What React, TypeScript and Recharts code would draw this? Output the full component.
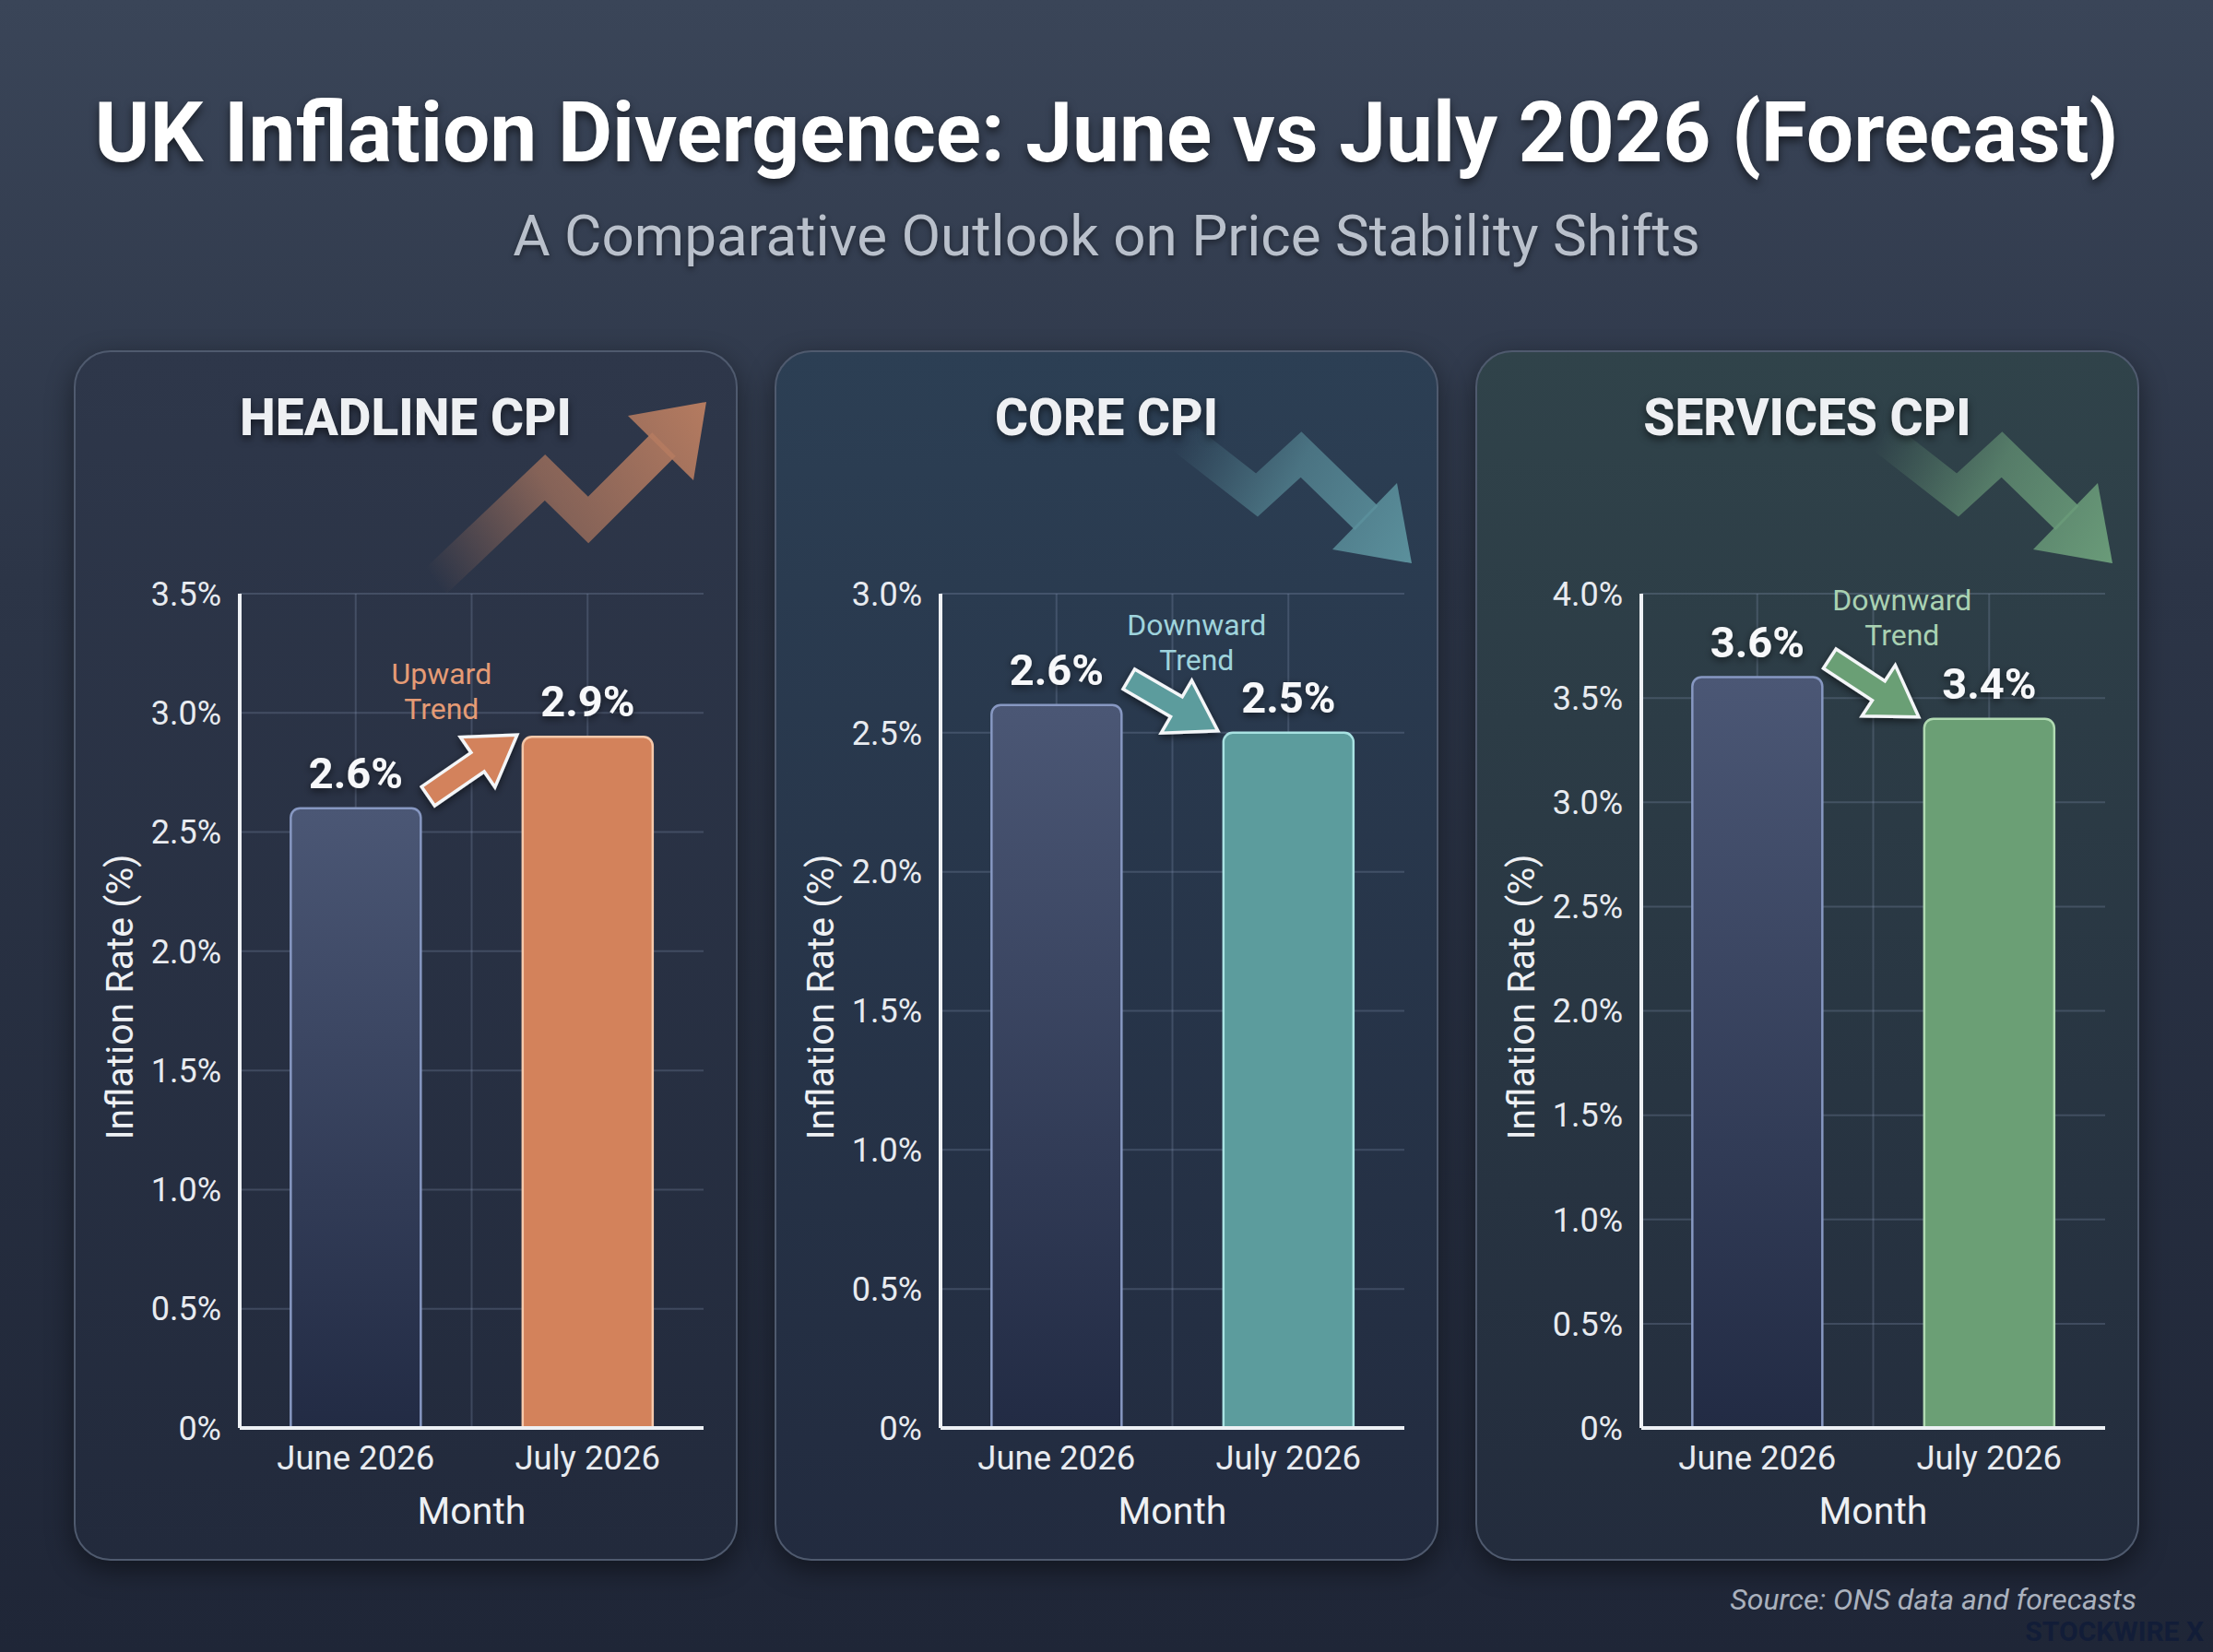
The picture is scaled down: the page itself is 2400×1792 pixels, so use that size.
import React from "react";
import { Bar, BarChart, CartesianGrid, Cell, LabelList, XAxis, YAxis } from "recharts";

const months = ["June 2026", "July 2026"];
const headlineValues = [2.6, 2.9];
const coreValues = [2.6, 2.5];
const servicesValues = [3.6, 3.4];
const headlineTicks = [0, 0.5, 1, 1.5, 2, 2.5, 3, 3.5];
const coreTicks = [0, 0.5, 1, 1.5, 2, 2.5, 3];
const servicesTicks = [0, 0.5, 1, 1.5, 2, 2.5, 3, 3.5, 4];
const panelTitles = ["HEADLINE CPI", "CORE CPI", "SERVICES CPI"];
const trendNotes = [
    ["Upward", "Trend"],
    ["Downward", "Trend"],
    ["Downward", "Trend"],
];

const FONT = "Roboto, 'Noto Sans', sans-serif";

// decorative zigzag arrows behind each panel title (panel coordinates)
const decoUp = {
    line: [[392, 251], [511, 138], [558, 184], [640, 102]],
    head: [[601, 71], [686, 56], [672, 141]],
};
const decoDown = {
    line: [[441, 93], [523, 157], [571, 113], [642, 182]],
    head: [[605, 216], [691, 231], [675, 144]],
};

const themes = [
    {
        key: "headline",
        left: 80,
        panelTop: "#2e374a",
        panelBottom: "#222a3c",
        accent: "#d3825b",
        accentStroke: "#f6c9ab",
        note: "#e59b75",
        deco: "#b57b60",
        shape: decoUp,
        lift: 13,
        noteDx: -82,
        noteDy: -66,
    },
    {
        key: "core",
        left: 840,
        panelTop: "#2c3f54",
        panelBottom: "#222b3f",
        accent: "#5c9c9d",
        accentStroke: "#a8e2e2",
        note: "#9fd3dc",
        deco: "#5b909c",
        shape: decoDown,
        lift: 28,
        noteDx: -23,
        noteDy: -115,
    },
    {
        key: "services",
        left: 1600,
        panelTop: "#30434a",
        panelBottom: "#232c3d",
        accent: "#6b9f75",
        accentStroke: "#b0dab2",
        note: "#a9d1b2",
        deco: "#6a9b79",
        shape: decoDown,
        lift: 20,
        noteDx: -18,
        noteDy: -127,
    },
];

const fmtTick = (v: number) => (v === 0 ? "0%" : `${v.toFixed(1)}%`);

function blockArrow(x1: number, y1: number, x2: number, y2: number) {
    const shaft = 25;
    const headW = 66;
    const headL = 52;
    const dx = x2 - x1;
    const dy = y2 - y1;
    const len = Math.hypot(dx, dy);
    const ux = dx / len;
    const uy = dy / len;
    const nx = -uy;
    const ny = ux;
    const bx = x2 - ux * headL;
    const by = y2 - uy * headL;
    const pts = [
        [x1 + (nx * shaft) / 2, y1 + (ny * shaft) / 2],
        [bx + (nx * shaft) / 2, by + (ny * shaft) / 2],
        [bx + (nx * headW) / 2, by + (ny * headW) / 2],
        [x2, y2],
        [bx - (nx * headW) / 2, by - (ny * headW) / 2],
        [bx - (nx * shaft) / 2, by - (ny * shaft) / 2],
        [x1 - (nx * shaft) / 2, y1 - (ny * shaft) / 2],
    ];
    return pts.map((p) => p.join(",")).join(" ");
}

type PanelProps = {
    title: string;
    values: number[];
    ticks: number[];
    note: string[];
    theme: (typeof themes)[number];
};

function Panel({ title, values, ticks, note, theme }: PanelProps) {
    const rows = months.map((month, i) => ({ month, value: values[i] }));
    const bars: { x: number; y: number; w: number }[] = [];
    const id = theme.key;
    const { line, head } = theme.shape;
    const start = line[0];
    const end = head[1];

    const renderLabel = (props: any) => {
        const vb = props.viewBox || props;
        const x = Number(props.x ?? vb.x);
        const y = Number(props.y ?? vb.y);
        const w = Number(props.width ?? vb.width);
        const index = props.index;
        bars[index] = { x, y, w };
        const label = (
            <text
                x={x + w / 2}
                y={y - 22}
                textAnchor="middle"
                fill="#f7f8fa"
                fontSize={47}
                fontWeight={700}
                fontFamily={FONT}
                filter={`url(#shadow-${id})`}
            >
                {`${Number(props.value).toFixed(1)}%`}
            </text>
        );
        if (index !== 1 || !bars[0]) return label;
        const prev = bars[0];
        const tx = x - 6;
        const ty = y - 2;
        return (
            <g>
                {label}
                <polygon
                    points={blockArrow(prev.x + prev.w + 8, prev.y - theme.lift, tx, ty)}
                    fill={theme.accent}
                    stroke="#f4f6f8"
                    strokeWidth={3.5}
                    strokeLinejoin="miter"
                    filter={`url(#shadow-${id})`}
                />
                <text
                    x={tx + theme.noteDx}
                    y={ty + theme.noteDy}
                    textAnchor="middle"
                    fill={theme.note}
                    fontSize={32}
                    fontFamily={FONT}
                >
                    <tspan x={tx + theme.noteDx} dy="0.35em">
                        {note[0]}
                    </tspan>
                    <tspan x={tx + theme.noteDx} dy="1.18em">
                        {note[1]}
                    </tspan>
                </text>
            </g>
        );
    };

    return (
        <div
            style={{
                position: "absolute",
                left: theme.left,
                top: 380,
                width: 720,
                height: 1313,
                boxSizing: "border-box",
                borderRadius: 40,
                border: "2px solid #4f5a6e",
                background: `linear-gradient(180deg, ${theme.panelTop} 0%, ${theme.panelBottom} 100%)`,
                boxShadow: "0 10px 30px rgba(0,0,0,0.45)",
                overflow: "hidden",
            }}
        >
            <svg width={720} height={1313} style={{ position: "absolute", left: -2, top: -2 }}>
                <defs>
                    <linearGradient
                        id={`deco-${id}`}
                        gradientUnits="userSpaceOnUse"
                        x1={start[0]}
                        y1={start[1]}
                        x2={end[0]}
                        y2={end[1]}
                    >
                        <stop offset="0%" stopColor={theme.deco} stopOpacity={0} />
                        <stop offset="45%" stopColor={theme.deco} stopOpacity={0.65} />
                        <stop offset="100%" stopColor={theme.deco} stopOpacity={1} />
                    </linearGradient>
                </defs>
                <polyline
                    points={line.map((p) => p.join(",")).join(" ")}
                    fill="none"
                    stroke={`url(#deco-${id})`}
                    strokeWidth={36}
                    strokeLinejoin="miter"
                />
                <polygon points={head.map((p) => p.join(",")).join(" ")} fill={`url(#deco-${id})`} />
            </svg>
            <div
                style={{
                    position: "absolute",
                    left: 0,
                    right: 0,
                    top: 38,
                    textAlign: "center",
                    color: "#eef0f3",
                    fontFamily: FONT,
                    fontWeight: 800,
                    fontSize: 55,
                    lineHeight: "66px",
                    textShadow: "0 4px 8px rgba(0,0,0,0.55)",
                }}
            >
                {title}
            </div>
            <div style={{ position: "absolute", left: -2, top: -2 }}>
                <BarChart
                    width={720}
                    height={1313}
                    data={rows}
                    margin={{ top: 264, right: 37, left: 0, bottom: 34 }}
                    barCategoryGap="22%"
                >
                    <defs>
                        <linearGradient id={`june-${id}`} x1="0" y1="0" x2="0" y2="1">
                            <stop offset="0%" stopColor="#4b5775" />
                            <stop offset="100%" stopColor="#222b44" />
                        </linearGradient>
                        <filter id={`shadow-${id}`} x="-30%" y="-30%" width="160%" height="160%">
                            <feDropShadow dx="0" dy="3" stdDeviation="4" floodColor="#000" floodOpacity="0.55" />
                        </filter>
                    </defs>
                    <CartesianGrid
                        stroke="rgba(140,156,186,0.26)"
                        strokeWidth={2}
                        verticalCoordinatesGenerator={({ offset }: any) => [
                            offset.left + offset.width * 0.25,
                            offset.left + offset.width * 0.5,
                            offset.left + offset.width * 0.75,
                        ]}
                    />
                    <XAxis
                        dataKey="month"
                        height={110}
                        axisLine={{ stroke: "#eef1f5", strokeWidth: 4 }}
                        tickLine={false}
                        tickSize={0}
                        tickMargin={19}
                        tick={{ fill: "#e8ebf0", fontSize: 36.5, fontFamily: FONT }}
                        label={{
                            value: "Month",
                            position: "insideBottom",
                            offset: 6,
                            fill: "#eef0f3",
                            fontSize: 41,
                            fontFamily: FONT,
                        }}
                    />
                    <YAxis
                        width={180}
                        domain={[0, ticks[ticks.length - 1]]}
                        ticks={ticks}
                        interval={0}
                        tickFormatter={fmtTick}
                        axisLine={{ stroke: "#eef1f5", strokeWidth: 4 }}
                        tickLine={false}
                        tickSize={0}
                        tickMargin={20}
                        tick={{ fill: "#e8ebf0", fontSize: 36, fontFamily: FONT }}
                        label={{
                            content: (p: any) => {
                                const vb = p.viewBox;
                                const cx = vb.x + 50;
                                const cy = vb.y + vb.height / 2 - 15;
                                return (
                                    <text
                                        x={cx}
                                        y={cy}
                                        transform={`rotate(-90 ${cx} ${cy})`}
                                        textAnchor="middle"
                                        dominantBaseline="central"
                                        fill="#eef0f3"
                                        fontSize={41}
                                        fontFamily={FONT}
                                    >
                                        Inflation Rate (%)
                                    </text>
                                );
                            },
                        }}
                    />
                    <Bar dataKey="value" isAnimationActive={false} radius={[10, 10, 0, 0]} strokeWidth={2.5}>
                        {rows.map((r, i) => (
                            <Cell
                                key={r.month}
                                fill={i === 0 ? `url(#june-${id})` : theme.accent}
                                stroke={i === 0 ? "#8798c2" : theme.accentStroke}
                            />
                        ))}
                        <LabelList dataKey="value" content={renderLabel} />
                    </Bar>
                </BarChart>
            </div>
        </div>
    );
}

export default function App() {
    const series = [headlineValues, coreValues, servicesValues];
    const tickSets = [headlineTicks, coreTicks, servicesTicks];
    return (
        <div
            style={{
                position: "fixed",
                left: 0,
                top: 0,
                width: 2400,
                height: 1792,
                overflow: "hidden",
                fontFamily: FONT,
                background: "linear-gradient(180deg, #3a4558 0%, #2c3547 35%, #1f2637 100%)",
            }}
        >
            <div
                style={{
                    position: "absolute",
                    left: 0,
                    right: 0,
                    top: 88,
                    textAlign: "center",
                    color: "#ffffff",
                    fontWeight: 700,
                    fontSize: 91,
                    lineHeight: "112px",
                    textShadow: "0 5px 10px rgba(0,0,0,0.55)",
                }}
            >
                UK Inflation Divergence: June vs July 2026 (Forecast)
            </div>
            <div
                style={{
                    position: "absolute",
                    left: 0,
                    right: 0,
                    top: 217,
                    textAlign: "center",
                    color: "#b9c0cb",
                    fontSize: 62,
                    lineHeight: "78px",
                    textShadow: "0 3px 6px rgba(0,0,0,0.45)",
                }}
            >
                A Comparative Outlook on Price Stability Shifts
            </div>
            {themes.map((theme, i) => (
                <Panel
                    key={theme.key}
                    title={panelTitles[i]}
                    values={series[i]}
                    ticks={tickSets[i]}
                    note={trendNotes[i]}
                    theme={theme}
                />
            ))}
            <div
                style={{
                    position: "absolute",
                    right: 83,
                    top: 1718,
                    color: "#aab1bd",
                    fontStyle: "italic",
                    fontSize: 32,
                    lineHeight: "34px",
                }}
            >
                Source: ONS data and forecasts
            </div>
            <div
                style={{
                    position: "absolute",
                    right: 10,
                    top: 1758,
                    color: "#121d38",
                    fontWeight: 700,
                    fontSize: 30,
                    lineHeight: "24px",
                    letterSpacing: 0,
                }}
            >
                STOCKWIRE X
            </div>
        </div>
    );
}
